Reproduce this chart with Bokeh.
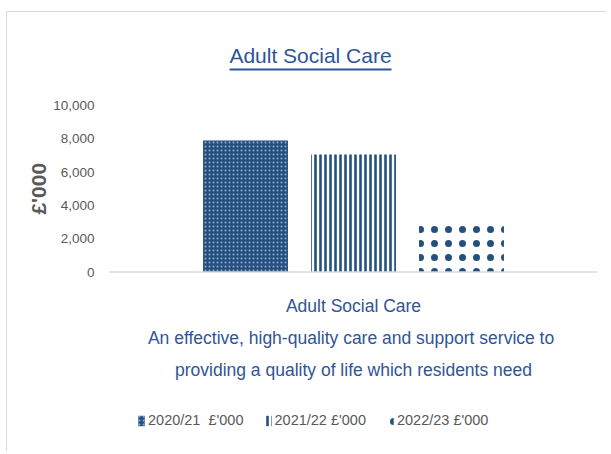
from bokeh.plotting import figure
from bokeh.models import (FactorRange, Range1d, NumeralTickFormatter, FixedTicker,
                          Legend, LegendItem, BoxAnnotation, ColumnDataSource, Label, Span, Spacer)
from bokeh.layouts import column, row
from bokeh.transform import dodge
from bokeh.embed import file_html
from bokeh.resources import INLINE

# ---- data ----
categories = ["Adult Social Care\nAn effective, high-quality care and support service  to\n"
              "providing a quality of life which residents need"]
series_names = ["2020/21  £'000", "2021/22 £'000", "2022/23 £'000"]
values_2020_21 = [7900]
values_2021_22 = [7050]
values_2022_23 = [2800]
y_ticks = [0, 2000, 4000, 6000, 8000, 10000]
chart_title = "Adult Social Care"
y_label = "£'000"

BLUE = "#24507F"
TEXT_BLUE = "#2F5597"
GREY = "#595959"
FONT = "Liberation Sans"

src = ColumnDataSource(dict(cat=categories, v1=values_2020_21, v2=values_2021_22,
                            v3=values_2022_23, zero=[0]))

# the plot frame covers the full canvas height; the value axis only spans 0..10,000
p = figure(x_range=FactorRange(factors=categories), y_range=Range1d(-10841, 15586),
           width=600, height=440, output_backend="svg", toolbar_location=None,
           title_location=None,
           min_border_left=102, min_border_right=10, min_border_top=0, min_border_bottom=0)
p.styles = {"border-left": "1px solid #D9D9D9", "border-top": "1px solid #D9D9D9"}

r1 = p.vbar(x=dodge("cat", -0.2213, range=p.x_range), top="v1", width=0.174, source=src,
            fill_color=BLUE, line_color=None, hatch_pattern="dot", hatch_color="#95ACCB",
            hatch_scale=4, hatch_weight=1.3)
r2 = p.vbar(x=dodge("cat", 0.0, range=p.x_range), top="v2", width=0.174, source=src,
            fill_color="white", line_color=None, hatch_pattern="vertical_line", hatch_color=BLUE,
            hatch_scale=5, hatch_weight=2.6)
r3 = p.vbar(x=dodge("cat", 0.2213, range=p.x_range), top="v3", width=0.174, source=src,
            fill_color="white", line_color=None, hatch_pattern="dot", hatch_color=BLUE,
            hatch_scale=14, hatch_weight=4)

p.outline_line_color = None
p.xgrid.grid_line_color = None
p.ygrid.grid_line_color = None
p.background_fill_color = "white"
p.border_fill_color = "white"

# category axis: baseline line + category label under it
p.xaxis.visible = False
p.add_layout(Span(location=0, dimension="width", line_color="#D9D9D9", line_width=1.5))
p.text(x="cat", y="zero", text="cat", source=src, y_offset=24,
       text_align="center", text_baseline="top", text_font_size="17.5px",
       text_color=TEXT_BLUE, text_line_height=1.6)

# title + underline
p.add_layout(Label(x=201, y=397, x_units="screen", y_units="screen", text=chart_title,
                   text_align="center", text_baseline="alphabetic", text_font=FONT,
                   text_font_size="21px", text_color=TEXT_BLUE))
p.add_layout(BoxAnnotation(left=120, right=282, top=384, bottom=382,
                           left_units="screen", right_units="screen",
                           top_units="screen", bottom_units="screen",
                           fill_color=TEXT_BLUE, fill_alpha=1, line_color=None))

# y axis (label nudged up to sit beside the 0..10,000 span)
ya = p.yaxis[0]
ya.ticker = FixedTicker(ticks=y_ticks)
ya.bounds = (0, 10000)
ya.formatter = NumeralTickFormatter(format="0,0")
ya.axis_line_color = None
ya.major_tick_line_color = None
ya.minor_tick_line_color = None
ya.major_label_text_font = FONT
ya.major_label_text_font_size = "13.5px"
ya.major_label_text_color = GREY
ya.major_label_standoff = 9
ya.axis_label = "\u00a0" * 15 + y_label
ya.axis_label_text_font = FONT
ya.axis_label_text_font_size = "21px"
ya.axis_label_text_font_style = "bold"
ya.axis_label_text_color = GREY
ya.axis_label_standoff = 0

legend = Legend(items=[LegendItem(label=series_names[0], renderers=[r1]),
                       LegendItem(label=series_names[1], renderers=[r2]),
                       LegendItem(label=series_names[2], renderers=[r3])],
                orientation="horizontal", location=(28, 24),
                glyph_width=8, glyph_height=13, label_standoff=3, spacing=20,
                padding=0, margin=0, border_line_color=None, background_fill_alpha=0,
                label_text_font=FONT, label_text_font_size="14.5px", label_text_color=GREY)
p.add_layout(legend, "center")

page = column(Spacer(height=11), row(Spacer(width=6), p))
open("out.html", "w").write(file_html(page, INLINE))
